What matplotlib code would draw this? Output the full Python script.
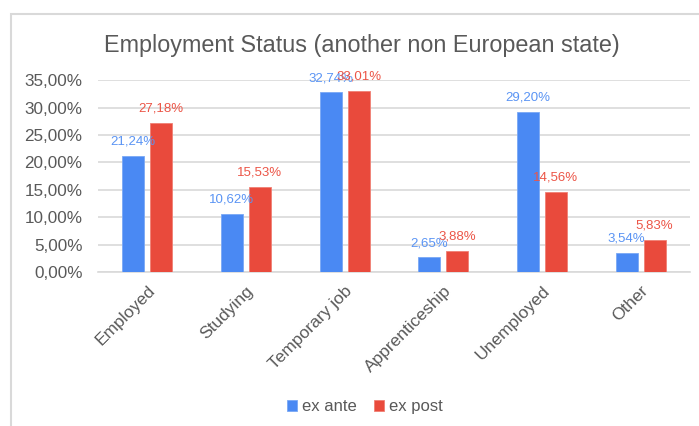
import numpy as np
import matplotlib.pyplot as plt
from matplotlib.patches import Rectangle
from matplotlib.ticker import FuncFormatter

# Employment status before / after, shares in percent
categories = ['Employed', 'Studying', 'Temporary job', 'Apprenticeship', 'Unemployed', 'Other']
ex_ante = [21.24, 10.62, 32.74, 2.65, 29.20, 3.54]
ex_post = [27.18, 15.53, 33.01, 3.88, 14.56, 5.83]
series_names = ['ex ante', 'ex post']
yticks = [0, 5, 10, 15, 20, 25, 30, 35]

cblue = '#4a89f3'
cred = '#e94a3c'
gtext = '#595959'
gline = '#d9d9d9'

plt.rcParams['font.family'] = ['Liberation Sans', 'DejaVu Sans']

def pct(v):
    return ('%.2f%%' % v).replace('.', ',')

fig = plt.figure(figsize=(6.99, 4.26), dpi=100)
ax = fig.add_axes([0.140, 0.3615, 0.847, 0.4505])

x = np.arange(len(categories))
w = 0.223
off = 0.142
b1 = ax.bar(x - off, ex_ante, w, color=cblue, edgecolor='#7aa8f5', linewidth=0.6, label=series_names[0], zorder=3)
b2 = ax.bar(x + off, ex_post, w, color=cred, edgecolor='#f07f74', linewidth=0.6, label=series_names[1], zorder=3)

for bars, vals, col in [(b1, ex_ante, '#5a94f4'), (b2, ex_post, '#ec5547')]:
    for rect, v in zip(bars, vals):
        ax.annotate(pct(v), (rect.get_x() + rect.get_width() / 2, v),
                    xytext=(0, 6), textcoords='offset points',
                    ha='center', va='bottom', fontsize=9.5, color=col, zorder=4)

ax.set_xlim(-0.5, len(categories) - 0.5)
ax.set_ylim(0, 35)
ax.set_yticks(yticks)
ax.yaxis.set_major_formatter(FuncFormatter(lambda v, p: pct(v)))
ax.grid(axis='y', color=gline, linewidth=1.2, zorder=0)
ax.set_axisbelow(True)
for s in ['top', 'right', 'left']:
    ax.spines[s].set_visible(False)
ax.spines['bottom'].set_color(gline)
ax.spines['bottom'].set_linewidth(1.2)
ax.tick_params(axis='both', length=0, colors=gtext, labelsize=12)
ax.tick_params(axis='y', pad=11, labelsize=12.3)
ax.tick_params(axis='x', pad=8)
ax.set_xticks(x)
ax.set_xticklabels(categories, rotation=45, ha='right', rotation_mode='anchor', fontsize=12.5)

fig.text(0.518, 0.894, 'Employment Status (another non European state)', ha='center', va='center',
         fontsize=16.8, color=gtext)

fig.legend(handles=[b1, b2], loc='center', bbox_to_anchor=(0.522, 0.045), ncol=2, frameon=False,
           fontsize=12, labelcolor=gtext, handlelength=0.6, handleheight=0.6, handletextpad=0.3,
           columnspacing=1.0)

# chart frame
fig.patches.append(Rectangle((10.5 / 699, -0.1), 1.2, 1.1 - 14 / 426, transform=fig.transFigure,
                             fill=False, edgecolor=gline, linewidth=1.5))

fig.savefig('out.png', dpi=100)
